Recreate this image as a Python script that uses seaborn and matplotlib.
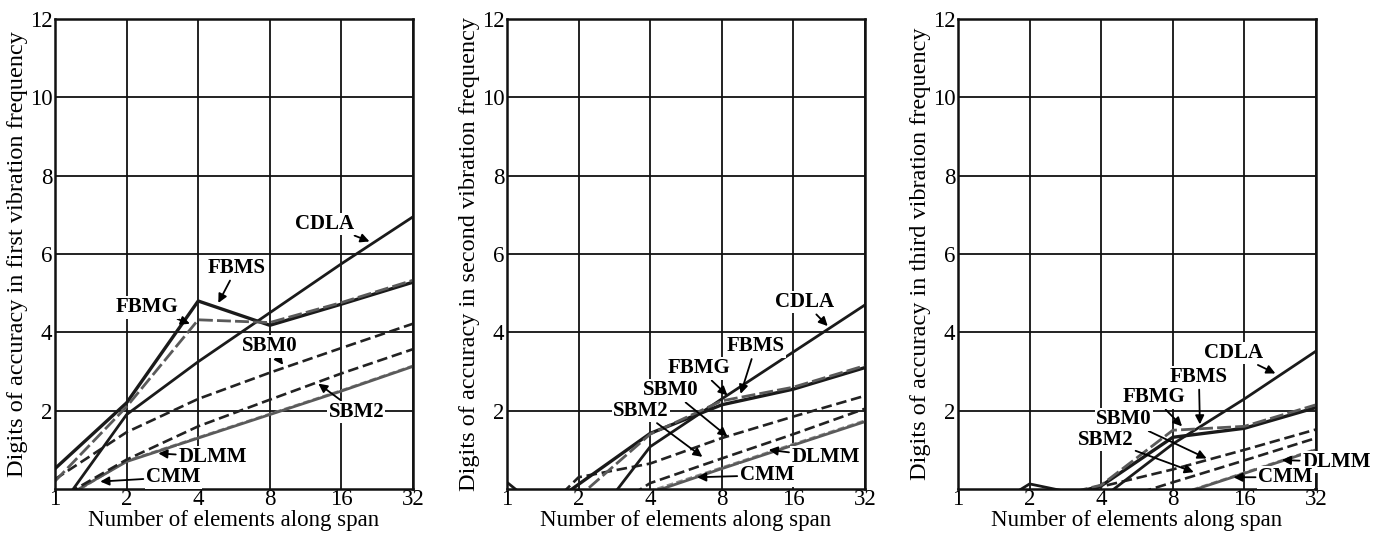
import matplotlib
matplotlib.use("Agg")
import matplotlib.pyplot as plt
import seaborn as sns
import pandas as pd

# ---------------- data ----------------
ELEMENTS = [1, 2, 4, 8, 16, 32]

# first vibration frequency
CDLA_1 = [-0.65, 1.90, 3.25, 4.50, 5.75, 6.95]
FBMS_1 = [0.52, 2.20, 4.80, 4.18, 4.72, 5.28]
FBMG_1 = [0.20, 2.10, 4.32, 4.25, 4.76, 5.33]
SBM0_1 = [0.25, 1.45, 2.30, 2.97, 3.60, 4.22]
SBM2_1 = [-0.30, 0.75, 1.60, 2.28, 2.95, 3.57]
DLMM_1 = [-0.40, 0.72, 1.32, 1.92, 2.52, 3.15]
CMM_1 = [-0.35, 0.70, 1.30, 1.90, 2.50, 3.13]

# second vibration frequency
CDLA_2 = [0.17, -1.30, 1.08, 2.30, 3.50, 4.70]
FBMS_2 = [-1.20, 0.12, 1.42, 2.15, 2.55, 3.10]
FBMG_2 = [-1.85, -0.20, 1.40, 2.25, 2.60, 3.15]
SBM0_2 = [-1.50, 0.30, 0.65, 1.30, 1.85, 2.38]
SBM2_2 = [-2.50, -1.00, 0.15, 0.78, 1.40, 2.05]
DLMM_2 = [-3.00, -1.50, -0.05, 0.55, 1.15, 1.75]
CMM_2 = [-3.00, -1.50, -0.10, 0.52, 1.12, 1.72]

# third vibration frequency
CDLA_3 = [-1.00, 0.13, -0.25, 1.15, 2.30, 3.52]
FBMS_3 = [-1.50, -0.40, 0.08, 1.32, 1.55, 2.08]
FBMG_3 = [-1.50, -0.35, 0.10, 1.50, 1.60, 2.15]
SBM0_3 = [-1.50, -0.50, 0.06, 0.50, 1.00, 1.52]
SBM2_3 = [-2.50, -1.40, -0.40, 0.17, 0.73, 1.30]
DLMM_3 = [-3.00, -2.00, -0.90, -0.18, 0.42, 1.02]
CMM_3 = [-3.00, -2.00, -0.90, -0.20, 0.40, 1.00]

METHODS = ["DLMM", "CMM", "SBM2", "SBM0", "CDLA", "FBMS", "FBMG"]
PANELS = [
    {"DLMM": DLMM_1, "CMM": CMM_1, "SBM2": SBM2_1, "SBM0": SBM0_1,
     "CDLA": CDLA_1, "FBMS": FBMS_1, "FBMG": FBMG_1},
    {"DLMM": DLMM_2, "CMM": CMM_2, "SBM2": SBM2_2, "SBM0": SBM0_2,
     "CDLA": CDLA_2, "FBMS": FBMS_2, "FBMG": FBMG_2},
    {"DLMM": DLMM_3, "CMM": CMM_3, "SBM2": SBM2_3, "SBM0": SBM0_3,
     "CDLA": CDLA_3, "FBMS": FBMS_3, "FBMG": FBMG_3},
]
YLABELS = [
    "Digits of accuracy in first vibration frequency",
    "Digits of accuracy in second vibration frequency",
    "Digits of accuracy in third vibration frequency",
]
XLABEL = "Number of elements along span"
YTICKS = [2, 4, 6, 8, 10, 12]

# label annotations: (text, text_x, text_y, tip_x, tip_y)
ANNOTS = [
    [("CDLA", 13.6, 6.77, 21.0, 6.32),
     ("FBMS", 5.8, 5.64, 4.86, 4.75),
     ("FBMG", 2.43, 4.64, 3.69, 4.22),
     ("SBM0", 8.0, 3.64, 9.1, 3.17),
     ("SBM2", 18.5, 1.97, 12.8, 2.69),
     ("DLMM", 4.6, 0.82, 2.72, 0.91),
     ("CMM", 3.14, 0.30, 1.55, 0.19)],
    [("CDLA", 17.8, 4.77, 22.3, 4.16),
     ("FBMS", 11.1, 3.64, 9.6, 2.43),
     ("FBMG", 6.4, 3.08, 8.45, 2.39),
     ("SBM0", 4.88, 2.52, 8.45, 1.34),
     ("SBM2", 3.65, 1.99, 6.63, 0.82),
     ("DLMM", 21.9, 0.82, 12.6, 1.00),
     ("CMM", 12.4, 0.35, 6.3, 0.30)],
    [("CDLA", 14.4, 3.47, 21.6, 2.95),
     ("FBMS", 10.3, 2.86, 10.4, 1.65),
     ("FBMG", 6.65, 2.34, 8.75, 1.60),
     ("SBM0", 4.97, 1.78, 11.1, 0.78),
     ("SBM2", 4.16, 1.26, 9.8, 0.43),
     ("DLMM", 39.0, 0.69, 23.0, 0.74),
     ("CMM", 23.8, 0.30, 14.4, 0.30)],
]

STYLES = {
    "CDLA": dict(color="#1a1a1a", lw=2.0, dashes=None),
    "FBMS": dict(color="#1a1a1a", lw=2.4, dashes=None),
    "FBMG": dict(color="#5a5a5a", lw=2.0, dashes=(5, 1.5)),
    "SBM0": dict(color="#222222", lw=1.9, dashes=(4, 1.8)),
    "SBM2": dict(color="#222222", lw=1.9, dashes=(4, 1.8)),
    "DLMM": dict(color="#8a8a8a", lw=1.6, dashes=(3, 1.5)),
    "CMM": dict(color="#5a5a5a", lw=2.0, dashes=None),
}

# ---------------- figure ----------------
sns.set_theme(style="white")
plt.rcParams["font.family"] = ["Liberation Serif", "DejaVu Serif"]

fig = plt.figure(figsize=(13.83, 5.35), dpi=100)
lefts = [55, 507, 958]
W, H = 1383.0, 535.0
axes = []
for lx in lefts:
    ax = fig.add_axes([lx / W, (535 - 489) / H, 358 / W, 470 / H])
    axes.append(ax)

for i, ax in enumerate(axes):
    series = PANELS[i]
    for m in METHODS:
        df = pd.DataFrame({"n": ELEMENTS, "acc": series[m]})
        st = STYLES[m]
        sns.lineplot(data=df, x="n", y="acc", ax=ax, color=st["color"],
                     lw=st["lw"], estimator=None, sort=False, zorder=3)
        l = ax.get_lines()[-1]
        if st["dashes"] is not None:
            l.set_dashes(st["dashes"])

    ax.set_xscale("log", base=2)
    ax.set_xlim(1, 32)
    ax.set_ylim(0, 12)
    ax.set_xticks(ELEMENTS)
    ax.set_xticklabels([str(v) for v in ELEMENTS])
    ax.set_yticks(YTICKS)
    ax.set_yticklabels([str(v) for v in YTICKS])
    ax.minorticks_off()
    ax.tick_params(axis="both", length=0, labelsize=16.5, colors="black")
    ax.tick_params(axis="x", pad=0)
    ax.tick_params(axis="y", pad=2)
    ax.grid(True, color="#111111", lw=1.3, zorder=1)
    ax.set_axisbelow(True)
    for sp in ax.spines.values():
        sp.set_color("#111111")
        sp.set_linewidth(1.8)
        sp.set_zorder(4)
    ax.set_xlabel(XLABEL, fontsize=16.5, labelpad=0, color="black")
    ax.set_ylabel(YLABELS[i], fontsize=17.5, labelpad=1, color="black")

    for (txt, tx, ty, px, py) in ANNOTS[i]:
        ax.annotate(
            txt, xy=(px, py), xytext=(tx, ty), textcoords="data",
            ha="center", va="center", fontsize=15, fontweight="bold",
            color="black", zorder=6, annotation_clip=False,
            bbox=dict(boxstyle="square,pad=0.06", fc="white", ec="none"),
            arrowprops=dict(arrowstyle="-|>", color="black", lw=1.3,
                            mutation_scale=13, shrinkA=1, shrinkB=0),
        )

fig.savefig("out.png", dpi=100)
